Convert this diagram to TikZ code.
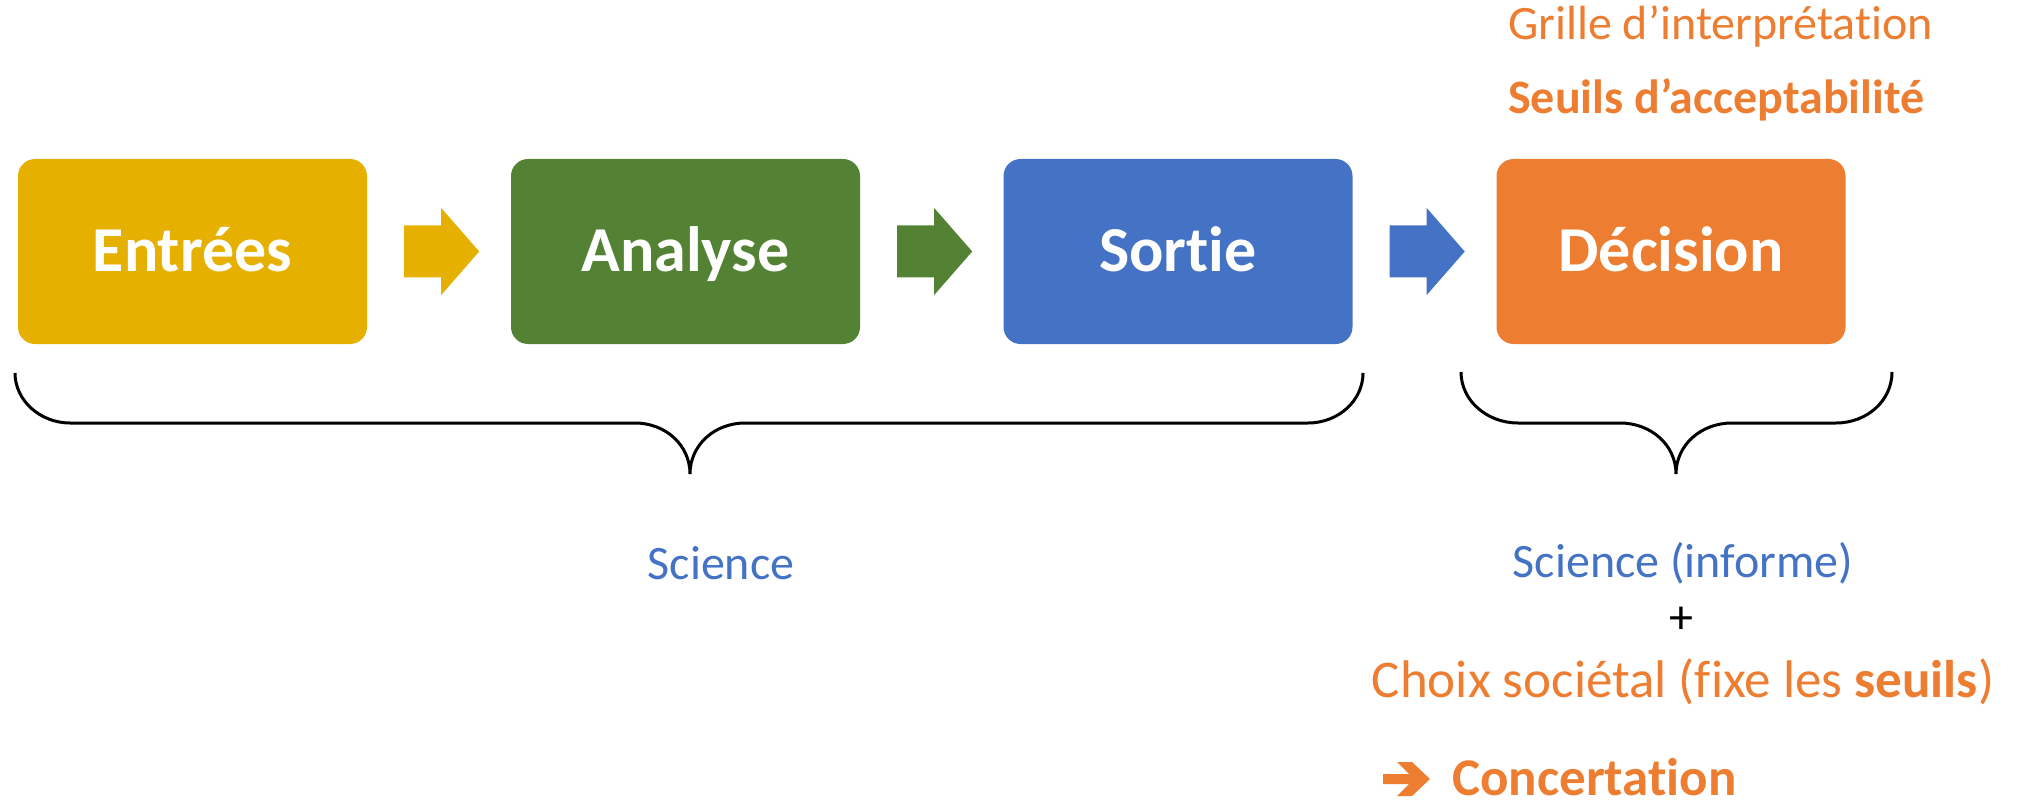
\documentclass[tikz,border=0pt]{standalone}
\usepackage{fontspec}
\setmainfont{Carlito}[RawFeature={-liga;-clig;-calt;-dlig}]
\usetikzlibrary{calc}
\definecolor{cgold}{HTML}{E6B000}
\definecolor{cgreen}{HTML}{548235}
\definecolor{cblue}{HTML}{4472C4}
\definecolor{corange}{HTML}{ED7D31}
\newcommand\blockarrow[2]{%
  \fill[#2] ($(#1.east)+(37,-26)$) -- ++(37,0) -- ++(0,-17.5) -- ++(38,43.5) -- ++(-38,43.5) -- ++(0,-17.5) -- ++(-37,0) -- cycle;}
\begin{document}
\begin{tikzpicture}[x=1pt,y=-1pt,
  box/.style={minimum width=349pt, minimum height=185pt, rounded corners=17pt, inner sep=0pt,
    text height=41pt, text depth=0pt,
    text=white, font=\fontsize{64}{64}\selectfont\bfseries},
  lbl/.style={inner sep=0pt, font=\fontsize{48}{48}\selectfont},
  blbl/.style={inner sep=0pt, font=\fontsize{48}{48}\selectfont\bfseries},
  brace/.style={line width=3pt, draw=black}]
\useasboundingbox (0,0) rectangle (2018,802);
\node[box, fill=cgold] (e) at (192.5,251.5) {Entrées};
\node[box, fill=cgreen] (a) at (685.5,251.5) {Analyse};
\node[box, fill=cblue] (s) at (1178,251.5) {Sortie};
\node[box, fill=corange] (d) at (1671,251.5) {Décision};
\blockarrow{e}{cgold}
\blockarrow{a}{cgreen}
\blockarrow{s}{cblue}
% braces
\coordinate (b1l) at (15,373);
\coordinate (b1r) at (1363,373);
\coordinate (b2l) at (1461,372);
\coordinate (b2r) at (1892,372);
\draw[brace] (b1l) .. controls (15,400.6) and (40.4,423) .. (70,423) -- (635,423)
  .. controls (665.4,423) and (690,445) .. (690,474)
  .. controls (690,445) and (714.6,423) .. (745,423) -- (1308,423)
  .. controls (1338.4,423) and (1363,400.6) .. (b1r);
\draw[brace] (b2l) .. controls (1461,400.6) and (1487,423) .. (1518,423) -- (1620,423)
  .. controls (1651,423) and (1676,445) .. (1676,474)
  .. controls (1676,445) and (1701,423) .. (1732,423) -- (1836,423)
  .. controls (1867,423) and (1892,400.6) .. (b2r);
% texts
\node[lbl, text=corange, anchor=base west] (grille) at (1508,40) {Grille d’interprétation};
\node[blbl, text=corange, anchor=base west] (seuils) at (1508,114) {Seuils d’acceptabilité};
\node[lbl, text=cblue, anchor=base] (sci) at (721,579) {Science};
\node[lbl, text=cblue, anchor=base] (scinf) at (1683,577) {Science (informe)};
\node[lbl, anchor=center] (plus) at (1681,620) {+};
\node[lbl, text=corange, anchor=base, font=\fontsize{53}{53}\selectfont] (choix) at (1683,697) {Choix sociétal (fixe les \textbf{seuils})};
\node[inner sep=0pt, text=corange, anchor=base west, font=\fontsize{53}{53}\selectfont\bfseries] (conc) at (1452,795) {Concertation};
% heavy arrow before "Concertation"
\fill[corange] (1383,774) -- (1409,774) -- (1397,762) -- (1412,762) -- (1430,779)
  -- (1412,796) -- (1397,796) -- (1409,784) -- (1383,784) -- cycle;
\end{tikzpicture}
\end{document}
